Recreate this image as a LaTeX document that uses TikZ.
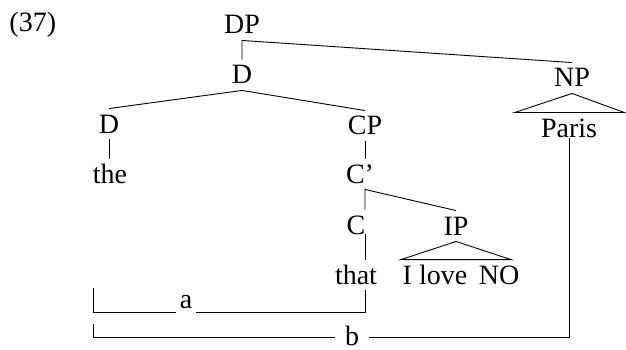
\documentclass[tikz,border=0pt]{standalone}
\usepackage{fontspec}
\setmainfont{Liberation Serif}
\usepackage{tikz}
\usetikzlibrary{calc}
\makeatletter
\renewcommand\large{\@setfontsize\large{28}{34}}
\makeatother
\tikzset{
  lbl/.style={font=\large,anchor=base,inner xsep=1pt,inner ysep=6pt,text height=18pt,text depth=0pt},
  brk/.style={lbl,fill=white,inner xsep=4pt}
}

\begin{document}
\begin{tikzpicture}[x=1pt,y=-1pt,line width=0.9pt]
\useasboundingbox(0,0)rectangle(626,350);
\node[lbl,anchor=base west](ex)at(8,32){(37)};
\node[lbl](DP)at(242,34){DP};
\node[lbl](D)at(242,84){D};
\node[lbl](NP)at(572,87){NP};
\node[lbl](Dl)at(109,133){D};
\node[lbl](CP)at(365,135){CP};
\node[lbl](Paris)at(569,137){Paris};
\node[lbl](the)at(110,183){the};
\node[lbl](Cbar)at(360,183){C'};
\node[lbl](C)at(356,234){C};
\node[lbl](IP)at(456,235){IP};
\node[lbl](that)at(356,284){that};
\node[lbl](IloveNO)at(461,284){I love\,\ NO};
\coordinate(abr)at(93,288);
\coordinate(bbr)at(93,324);
\draw(D.north)--(DP.south)--(NP.north);
\draw(Dl.north)--(D.south)--(CP.north);
\draw(Dl.south)--(Dl.south|-the.north);
\draw(CP.south)--(CP.south|-Cbar.north);
\draw(IP.north)--(Cbar.south-|CP.south)--(C.north-|CP.south);
\draw([yshift=6pt]C.south-|CP.south)--(that.north-|CP.south);
\draw(IP.south)--(IloveNO.north west)--([xshift=-10pt]IloveNO.north east)--cycle;
\draw(NP.south)--([xshift=-25pt]Paris.north west)--([xshift=26pt]Paris.north east)--cycle;
\draw(that.south-|CP.south)--++(0,22)-|(abr);
\draw([yshift=5pt]Paris.south)--++(0,199)-|(bbr);
\node[brk](a)at(186,308){a};
\node[brk,inner xsep=10pt,inner ysep=2pt](b)at(352,345){b};
\end{tikzpicture}
\end{document}
